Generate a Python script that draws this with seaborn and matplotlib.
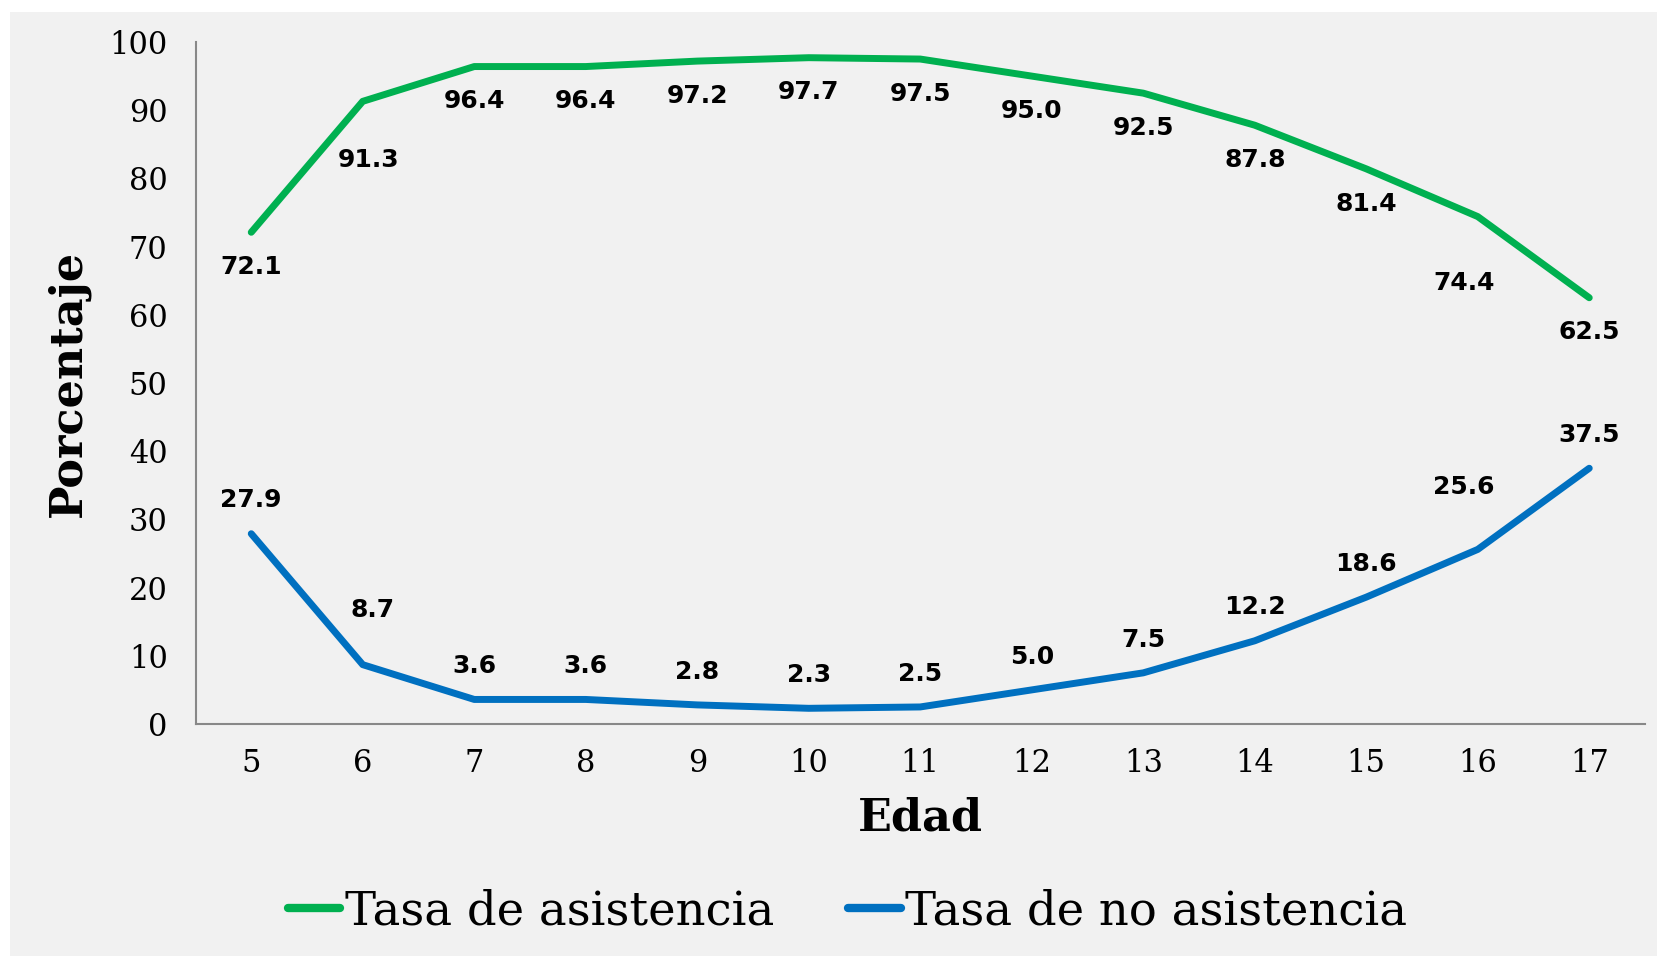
"""Tasa de asistencia / no asistencia por edad."""

import matplotlib
matplotlib.use("Agg")
import matplotlib.pyplot as plt
from matplotlib.patches import Rectangle
import pandas as pd
import seaborn as sns

edad = [5, 6, 7, 8, 9, 10, 11, 12, 13, 14, 15, 16, 17]
asistencia = [72.1, 91.3, 96.4, 96.4, 97.2, 97.7, 97.5, 95.0, 92.5, 87.8, 81.4, 74.4, 62.5]
no_asistencia = [27.9, 8.7, 3.6, 3.6, 2.8, 2.3, 2.5, 5.0, 7.5, 12.2, 18.6, 25.6, 37.5]
series = ["Tasa de asistencia", "Tasa de no asistencia"]
colores = ["#00B050", "#0070C0"]

# desplazamiento de etiquetas (pt), algunas movidas a mano como en el original
off_asis = [(0, -25), (4, -42), (0, -25), (0, -25), (0, -25), (0, -25), (0, -25),
            (0, -25), (0, -25), (0, -25), (0, -25), (-10, -48), (0, -25)]
off_no = [(0, 24), (7, 39), (0, 24), (0, 24), (0, 24), (0, 24), (0, 24),
          (0, 24), (0, 24), (0, 24), (0, 24), (-10, 45), (0, 24)]

df = pd.DataFrame({
    "Edad": edad * 2,
    "Porcentaje": asistencia + no_asistencia,
    "serie": [series[0]] * len(edad) + [series[1]] * len(edad),
})

sns.set_theme(style="white")
plt.rcParams["font.family"] = ["DejaVu Serif"]
plt.rcParams["text.color"] = "black"
plt.rcParams["axes.labelcolor"] = "black"
plt.rcParams["xtick.color"] = "black"
plt.rcParams["ytick.color"] = "black"

BG = "#f1f1f1"
W, H = 1657, 956
fig = plt.figure(figsize=(W / 100, H / 100), dpi=100, facecolor="white")
fig.patches.append(Rectangle((10 / W, 0), 1, 1 - 12 / H, transform=fig.transFigure,
                             facecolor=BG, edgecolor="none", zorder=-10))
ax = fig.add_axes([195.5 / W, 1 - 724 / H, (1645 - 195.5) / W, (724 - 42) / H])
ax.set_facecolor(BG)

sns.lineplot(data=df, x="Edad", y="Porcentaje", hue="serie", hue_order=series,
             palette=colores, linewidth=5, ax=ax, legend=False,
             solid_capstyle="round")

# etiquetas de datos
for x, v, o in zip(edad, asistencia, off_asis):
    ax.annotate(f"{v:.1f}", (x, v), xytext=o, textcoords="offset points",
                ha="center", va="center", fontsize=18, fontweight="bold",
                family="DejaVu Sans", color="black")
for x, v, o in zip(edad, no_asistencia, off_no):
    ax.annotate(f"{v:.1f}", (x, v), xytext=o, textcoords="offset points",
                ha="center", va="center", fontsize=18, fontweight="bold",
                family="DejaVu Sans", color="black")

ax.set_xlim(4.5, 17.5)
ax.set_ylim(0, 100)
ax.set_xticks(edad)
ax.set_yticks(range(0, 101, 10))
ax.tick_params(axis="both", length=0, labelsize=22)
ax.tick_params(axis="x", pad=17)
ax.tick_params(axis="y", pad=20)
for s in ["top", "right"]:
    ax.spines[s].set_visible(False)
for s in ["left", "bottom"]:
    ax.spines[s].set_color("#888888")
    ax.spines[s].set_linewidth(1.5)

ax.set_xlabel("Edad", fontsize=32, fontweight="bold", labelpad=13)
ax.set_ylabel("Porcentaje", fontsize=32, fontweight="bold", labelpad=14)

handles = [plt.Line2D([], [], color=c, linewidth=6, solid_capstyle="round") for c in colores]
fig.legend(handles, series, loc="center", bbox_to_anchor=(0.5115, 1 - 912 / H),
           ncol=2, frameon=False, fontsize=33.5, handlelength=1.12,
           handletextpad=0.1, columnspacing=1.6)

fig.savefig("out.png", dpi=100, facecolor=fig.get_facecolor())
plt.close(fig)
